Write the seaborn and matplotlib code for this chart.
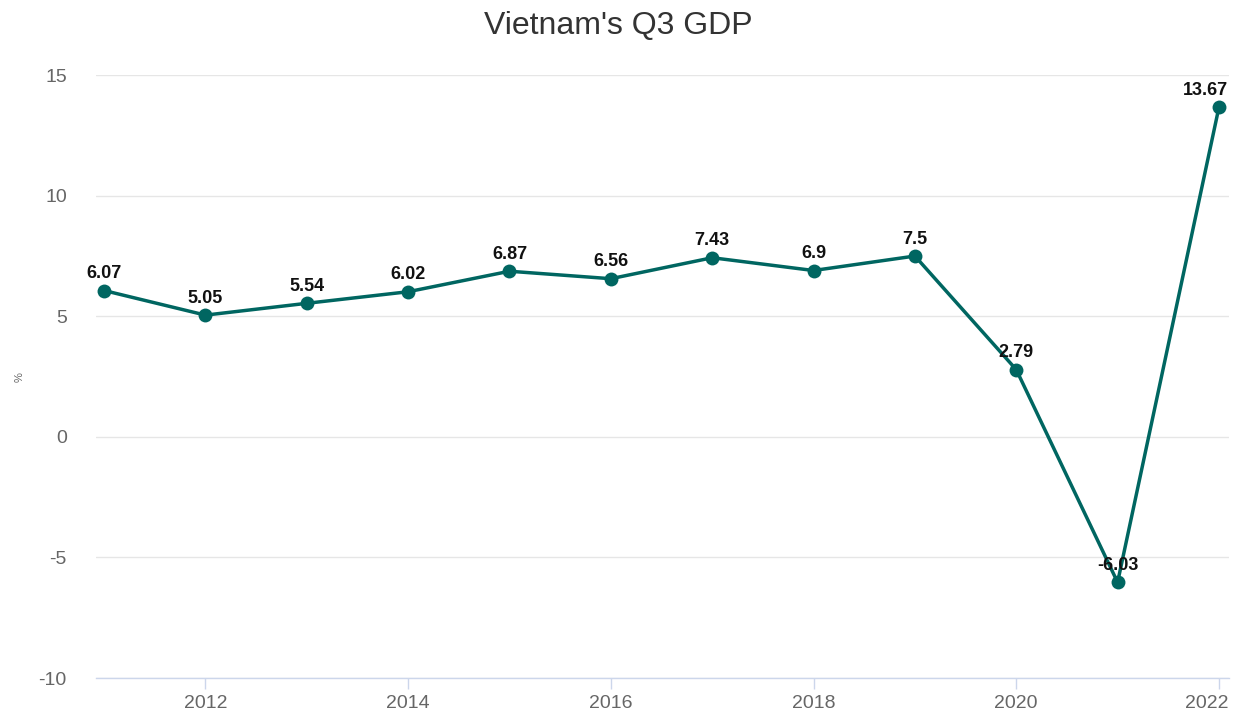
import pandas as pd
import matplotlib.pyplot as plt
import matplotlib.transforms as mtransforms
import seaborn as sns

# data
years = [2011, 2012, 2013, 2014, 2015, 2016, 2017, 2018, 2019, 2020, 2021, 2022]
gdp = [6.07, 5.05, 5.54, 6.02, 6.87, 6.56, 7.43, 6.9, 7.5, 2.79, -6.03, 13.67]
labels = ["6.07", "5.05", "5.54", "6.02", "6.87", "6.56", "7.43", "6.9", "7.5", "2.79", "-6.03", "13.67"]

df = pd.DataFrame({"year": years, "gdp": gdp})

sns.set_style("white")
plt.rcParams['font.family'] = ['Liberation Sans', 'DejaVu Sans']
plt.rcParams['axes.unicode_minus'] = False

fig = plt.figure(figsize=(12.37, 7.16), dpi=100)
ax = fig.add_axes([0.0776, 0.053, 0.916, 0.842])

line_color = "#006661"
sns.lineplot(data=df, x="year", y="gdp", ax=ax, color=line_color, linewidth=2.5,
             marker="o", markersize=10, markeredgewidth=0, zorder=3)

for x, y, t in zip(years, gdp, labels):
    dx = -10 if x == years[-1] else 0
    ax.annotate(t, (x, y), xytext=(dx, 6), textcoords="offset points",
                ha="center", va="bottom", fontsize=13, fontweight="bold",
                color="#111111", zorder=4)

ax.set_xlim(2010.92, 2022.1)
ax.set_ylim(-10, 15)
ax.set_yticks([-10, -5, 0, 5, 10, 15])
ax.set_xticks([2012, 2014, 2016, 2018, 2020, 2022])
ax.grid(axis="y", color="#e6e6e6", linewidth=1)
ax.grid(axis="x", visible=False)

for s in ["top", "right", "left"]:
    ax.spines[s].set_visible(False)
ax.spines["bottom"].set_color("#ccd6eb")
ax.spines["bottom"].set_linewidth(1)

ax.tick_params(axis="x", bottom=True, labelsize=14, length=8, width=1,
               direction="out", pad=4, color="#ccd6eb", labelcolor="#666666")
ax.tick_params(axis="y", left=False, labelsize=14, length=0, pad=21,
               labelcolor="#666666")

# last x label sits inside the figure, like the original
last = ax.get_xticklabels()[-1]
last.set_transform(last.get_transform() +
                   mtransforms.ScaledTranslation(-12 / 100, 0, fig.dpi_scale_trans))

ax.set_xlabel("")
ax.set_ylabel("%", fontsize=8, color="#666666", labelpad=10)
fig.suptitle("Vietnam's Q3 GDP", fontsize=23, color="#333333", y=0.963, va="center")

fig.savefig("out.png", dpi=100)
